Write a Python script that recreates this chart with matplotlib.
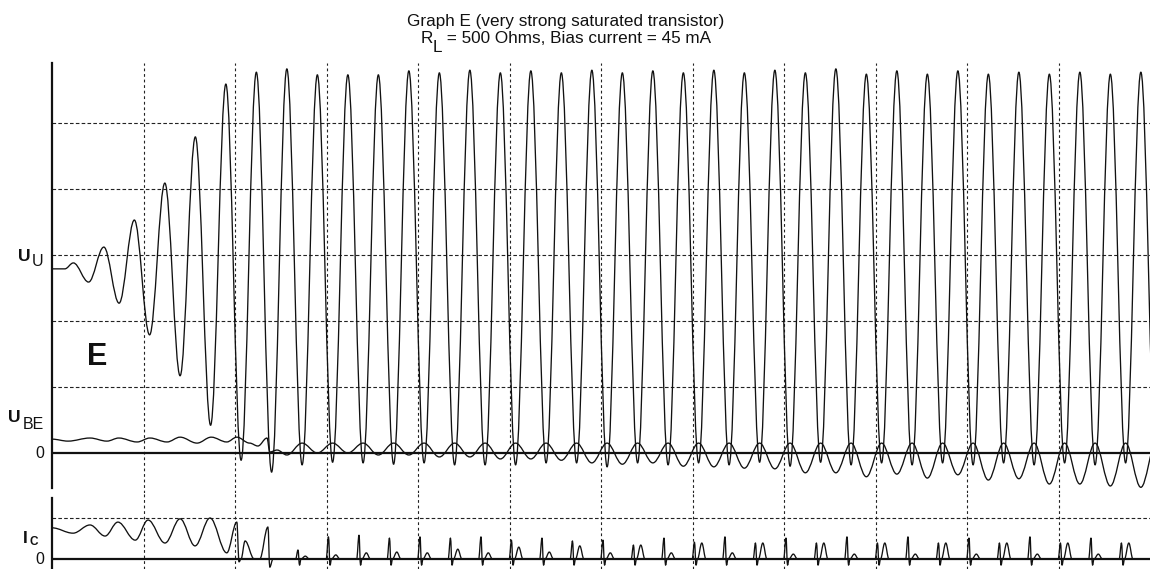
import numpy as np
import matplotlib
matplotlib.use("Agg")
import matplotlib.pyplot as plt
from matplotlib.path import Path
from matplotlib.patches import PathPatch

plt.rcParams['font.family'] = ['Liberation Sans', 'DejaVu Sans']
plt.rcParams['lines.scale_dashes'] = False

# ---------------- data ----------------
# time axis in grid divisions (0..12); 3 oscillation cycles per division
T_PEAK0 = 1.90          # time of U_U peak number 0
PERIOD = 1 / 3
UU_START = 2.79         # resting level of U_U (divisions above 0)
UU_FLAT_END = 0.14
UU_K = list(range(-5, 31))
UU_PEAKS = [2.88, 3.12, 3.53, 4.09, 4.79, 5.59, 5.77, 5.82, 5.73, 5.73, 5.73,
            5.79, 5.76, 5.80, 5.76, 5.79, 5.76, 5.80, 5.76, 5.79, 5.76, 5.80, 5.76,
            5.80, 5.76, 5.82, 5.74, 5.79, 5.74, 5.79, 5.74, 5.77, 5.74, 5.77, 5.74, 5.77]
UU_TROUGHS = [2.59, 2.27, 1.79, 1.17, 0.42, -0.11, -0.29, -0.18, -0.14, -0.15,
              -0.17, -0.15, -0.18, -0.18, -0.18, -0.15, -0.15, -0.21, -0.15, -0.18,
              -0.15, -0.18, -0.14, -0.20, -0.14, -0.18, -0.15, -0.18, -0.15, -0.18,
              -0.15, -0.18, -0.15, -0.18, -0.15, -0.18]

# U_BE before saturation (time, value)
UBE_PRE_T = [0.0, 0.175, 0.415, 0.60, 0.73, 0.93, 1.07, 1.257, 1.40, 1.585, 1.74,
             1.91, 2.02, 2.16, 2.25, 2.35, 2.38, 2.46]
UBE_PRE_V = [0.21, 0.18, 0.227, 0.18, 0.227, 0.167, 0.227, 0.167, 0.24, 0.15, 0.24,
             0.167, 0.24, 0.15, 0.106, 0.227, 0.015, 0.045]
UBE_K = list(range(2, 31))
UBE_TROUGHS = [-0.03, 0.0, 0.0, -0.03, -0.03, -0.06, -0.06, -0.09, -0.09, -0.11,
               -0.15, -0.17, -0.15, -0.20, -0.21, -0.23, -0.24, -0.30, -0.30, -0.36,
               -0.32, -0.38, -0.33, -0.41, -0.39, -0.47, -0.47, -0.50, -0.52]
UBE_TOP = 0.15

# I_C (lower panel units: dashed line = 1)
IC_PRE_T = [0.0, 0.23, 0.415, 0.58, 0.72, 0.91, 1.05, 1.235, 1.40, 1.563, 1.727,
            1.91, 2.02, 2.044, 2.066, 2.11, 2.21, 2.27, 2.36, 2.38, 2.415]
IC_PRE_V = [0.76, 0.63, 0.83, 0.56, 0.90, 0.46, 0.95, 0.39, 0.98, 0.32, 1.0,
            0.15, 0.90, -0.07, 0.0, 0.44, 0.0, 0.0, 0.78, -0.20, 0.0]
IC_K = list(range(2, 30))
IC_SPIKES = [0.22, 0.54, 0.58, 0.51, 0.54, 0.51, 0.54, 0.46, 0.51, 0.44, 0.46, 0.34,
             0.51, 0.41, 0.54, 0.39, 0.51, 0.39, 0.54, 0.39, 0.54, 0.39, 0.51, 0.39,
             0.54, 0.39, 0.51, 0.39]
IC_HUMPS = [0.07, 0.10, 0.15, 0.17, 0.15, 0.24, 0.15, 0.29, 0.17, 0.32, 0.15, 0.34,
            0.15, 0.39, 0.15, 0.39, 0.12, 0.39, 0.12, 0.39, 0.12, 0.39, 0.12, 0.39,
            0.12, 0.39, 0.12, 0.39]
IC_DIP = -0.15

TITLE1 = 'Graph E (very strong saturated transistor)'
TITLE2_MAIN, TITLE2_SUB, TITLE2_REST = 'R', 'L', ' = 500 Ohms, Bias current = 45 mA'

# ---------------- figure ----------------
W, H = 1151, 569
fig = plt.figure(figsize=(W / 100, H / 100), dpi=100)


def fx(px):
    return px / W


def fy(py):
    return 1 - py / H


L, R = 52, 1150
ax1 = fig.add_axes([fx(L), fy(493), fx(R) - fx(L), fy(63) - fy(493)])
ax2 = fig.add_axes([fx(L), fy(569), fx(R) - fx(L), fy(493) - fy(569)])

INK = '#111111'


def curve(ax, ts, vs, lw=0.95):
    c = 1 - 2 / np.pi
    verts = [(ts[0], vs[0])]
    codes = [Path.MOVETO]
    for i in range(1, len(ts)):
        dt = ts[i] - ts[i - 1]
        verts += [(ts[i - 1] + c * dt, vs[i - 1]), (ts[i] - c * dt, vs[i]), (ts[i], vs[i])]
        codes += [Path.CURVE4] * 3
    ax.add_patch(PathPatch(Path(verts, codes), fill=False, edgecolor=INK, lw=lw,
                           joinstyle='round', capstyle='round', zorder=3))


# U_U
uu_t, uu_v = [0.0, UU_FLAT_END], [UU_START, UU_START]
for k, p, tr in zip(UU_K, UU_PEAKS, UU_TROUGHS):
    uu_t += [T_PEAK0 + k * PERIOD, T_PEAK0 + (k + 0.5) * PERIOD]
    uu_v += [p, tr]
curve(ax1, uu_t, uu_v)

# U_BE
ube_t, ube_v = list(UBE_PRE_T), list(UBE_PRE_V)
for k, tr in zip(UBE_K, UBE_TROUGHS):
    ube_t += [T_PEAK0 + k * PERIOD, T_PEAK0 + (k + 0.5) * PERIOD]
    ube_v += [tr, UBE_TOP]
curve(ax1, ube_t, ube_v)

# I_C
ic_t, ic_v = list(IC_PRE_T), list(IC_PRE_V)
for k, s, h in zip(IC_K, IC_SPIKES, IC_HUMPS):
    tc = T_PEAK0 + (k + 0.5) * PERIOD
    ic_t += [tc - 0.070, tc - 0.045, tc - 0.028, tc - 0.012, tc + 0.035, tc + 0.08]
    ic_v += [0.0, s, IC_DIP, 0.0, h, 0.0]
ic_t.append(12.0)
ic_v.append(0.0)
curve(ax2, ic_t, ic_v)

# axes styling
ax1.set_xlim(0, 12)
ax1.set_ylim(-40 / 66, 390 / 66)
ax2.set_xlim(0, 12)
ax2.set_ylim(-10 / 41, 66 / 41)
DASH_V = (0, (2.0, 2.0))
DASH_H = (0, (2.6, 1.6))
for ax in (ax1, ax2):
    ax.set_facecolor('none')
    for s in ('top', 'right', 'bottom'):
        ax.spines[s].set_visible(False)
    ax.spines['left'].set_linewidth(1.6)
    ax.spines['left'].set_color(INK)
    ax.set_xticks([])
    ax.set_yticks([])
    for t in range(1, 12):
        ax.axvline(t, color='#222222', lw=0.8, ls=DASH_V, zorder=1)
    ax.axhline(0, color=INK, lw=1.6, zorder=2)
ax1.spines['left'].set_bounds(-35 / 66, 390 / 66)
ax2.spines['left'].set_bounds(-10 / 41, 61 / 41)
for yv in (1, 2, 3, 4, 5):
    ax1.axhline(yv, color='#222222', lw=0.8, ls=DASH_H, zorder=1)
ax2.axhline(1, color='#222222', lw=0.8, ls=DASH_H, zorder=1)


# labels
def put(px, py, s, **kw):
    kw.setdefault('va', 'baseline')
    return fig.text(fx(px), fy(py), s, color=INK, **kw)


put(18, 261, 'U', fontsize=12.5, fontweight='bold')
put(32, 266, 'U', fontsize=11.5)
put(8, 422, 'U', fontsize=12.5, fontweight='bold')
put(23, 429, 'BE', fontsize=11.5)
put(44.5, 458, '0', fontsize=11.5, ha='right')
put(23, 543, 'I', fontsize=12.5, fontweight='bold')
put(29, 545, 'C', fontsize=8.5, fontweight='bold')
put(44.5, 564, '0', fontsize=11.5, ha='right')
put(87, 365, 'E', fontsize=22, fontweight='bold')

# title
TFS = 12.3
put(566, 26, TITLE1, fontsize=TFS, ha='center')
renderer = fig.canvas.get_renderer()
tR = put(0, 43, TITLE2_MAIN, fontsize=TFS)
tL = put(0, 52, TITLE2_SUB, fontsize=TFS)
tX = put(0, 43, TITLE2_REST, fontsize=TFS)
wR = tR.get_window_extent(renderer).width
wL = tL.get_window_extent(renderer).width
wX = tX.get_window_extent(renderer).width
x0 = 566 - (wR + wL + wX) / 2
tR.set_x(fx(x0))
tL.set_x(fx(x0 + wR))
tX.set_x(fx(x0 + wR + wL))

fig.savefig('out.png', dpi=100)
